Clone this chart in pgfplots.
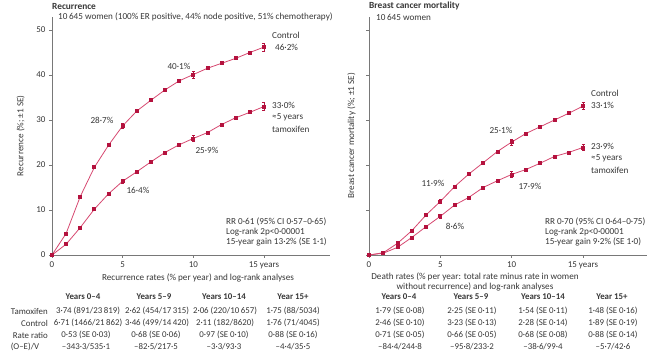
\documentclass[border=0pt]{standalone}
\usepackage{fontspec}
\setmainfont{Carlito}
\usepackage{pgfplots}
\pgfplotsset{compat=1.18}
\definecolor{crim}{RGB}{180,18,62}
\definecolor{crimline}{RGB}{214,72,112}
\definecolor{txt}{RGB}{55,55,55}
\definecolor{axgray}{RGB}{120,120,120}
\pgfplotsset{
  panel/.style={
    scale only axis, axis lines=left,
    axis line style={draw=axgray,-,line width=0.6pt},
    xmin=0, ymin=0, ymax=53, height=238.5bp,
    tick align=outside, major tick length=3bp,
    tick style={draw=axgray,line width=0.6pt},
    xtick={0,5,10,15}, ytick={0,10,20,30,40,50},
    xticklabels={0,5,10,15 years},
    tick label style={font=\fontsize{9}{10}\selectfont, text=txt},
    /pgf/number format/assume math mode=true,
    clip=false, anchor=south west,
  },
  ser/.style={color=crimline, line width=0.8pt, mark=square*, mark size=1.5bp,
    mark options={fill=crim, draw=crim}},
  eb/.style={forget plot, draw=none, mark=none,
    error bars/.cd, y dir=both, y explicit,
    error bar style={draw=crim, line width=0.7pt},
    error mark options={draw=crim, rotate=90, mark size=1.5bp, line width=0.6pt}},
}
\newcommand{\tf}{\fontsize{9.2}{11}\selectfont\color{txt}}
\newcommand{\tb}{\fontsize{8.9}{10}\selectfont\color{txt}}
\begin{document}
\begin{tikzpicture}
\path (0bp,0bp) rectangle (649bp,356bp);
% ---------------- left panel ----------------
\begin{axis}[panel, at={(52bp,101bp)}, xmax=19.7, width=278.4bp,
  ylabel={Recurrence (\%; ±1 SE)},
  ylabel style={font=\tf}, ylabel shift=5bp,
  ]
\addplot[ser] coordinates {(0,0) (1,4.8) (2,13.0) (3,19.5) (4,24.4) (5,28.7) (6,32.0) (7,34.4) (8,36.7) (9,38.7) (10,40.1) (11,41.5) (12,42.6) (13,43.7) (14,45.0) (15,46.2)};
\addplot[ser] coordinates {(0,0) (1,2.4) (2,6.1) (3,10.2) (4,13.6) (5,16.4) (6,18.5) (7,20.7) (8,22.8) (9,24.5) (10,25.9) (11,27.2) (12,29.0) (13,30.5) (14,31.7) (15,33.0)};
\addplot[eb] coordinates {(5,28.7) +- (0,0.6) (10,40.1) +- (0,0.8) (15,46.2) +- (0,0.9)};
\addplot[eb] coordinates {(5,16.4) +- (0,0.5) (10,25.9) +- (0,0.7) (15,33.0) +- (0,0.9)};
\end{axis}
% ---------------- right panel ----------------
\begin{axis}[panel, at={(369bp,101bp)}, xmax=19.5, width=278.2bp,
  yticklabels={},
  ylabel={Breast cancer mortality (\%; ±1 SE)},
  ylabel style={font=\tf},
  ]
\addplot[ser] coordinates {(0,0) (1,0.5) (2,2.6) (3,5.4) (4,8.9) (5,11.9) (6,15.2) (7,18.0) (8,20.5) (9,23.0) (10,25.1) (11,27.0) (12,28.5) (13,30.0) (14,31.5) (15,33.1)};
\addplot[ser] coordinates {(0,0) (1,0.4) (2,1.7) (3,3.9) (4,6.3) (5,8.6) (6,11.1) (7,12.8) (8,15.0) (9,16.5) (10,17.9) (11,19.0) (12,20.4) (13,21.9) (14,22.8) (15,23.9)};
\addplot[eb] coordinates {(5,11.9) +- (0,0.5) (10,25.1) +- (0,0.7) (15,33.1) +- (0,0.8)};
\addplot[eb] coordinates {(5,8.6) +- (0,0.4) (10,17.9) +- (0,0.6) (15,23.9) +- (0,0.7)};
\end{axis}
\begin{scope}[x=1bp,y=1bp]
% ---------------- left texts ----------------
\node[anchor=west, inner sep=0pt, font=\fontsize{9.4}{10}\selectfont\bfseries\color{txt}] at (52,350) {Recurrence};
\node[anchor=west, inner sep=0pt, font=\tf] at (58,339) {10\,645 women (100\% ER positive, 44\% node positive, 51\% chemotherapy)};
\node[anchor=west, inner sep=0pt, font=\tf] at (272,321) {Control};
\node[anchor=west, inner sep=0pt, font=\tf] at (275,309) {46·2\%};
\node[font=\tf] at (179,290) {40·1\%};
\node[font=\tf] at (102,236) {28·7\%};
\node[anchor=west, inner sep=0pt, font=\tf] at (272,251) {33·0\%};
\node[anchor=west, inner sep=0pt, font=\tf] at (272,239) {≈5 years};
\node[anchor=west, inner sep=0pt, font=\tf] at (272,227) {tamoxifen};
\node[font=\tf] at (207,206) {25·9\%};
\node[font=\tf] at (138,166) {16·4\%};
\node[anchor=west, inner sep=0pt, font=\tf, align=left] at (226,124) {RR 0·61 (95\% CI 0·57–0·65)\\[-1pt]Log-rank 2p<0·00001\\[-1pt]15-year gain 13·2\% (SE 1·1)};
\node[font=\tf] at (198,78) {Recurrence rates (\% per year) and log-rank analyses};
% ---------------- right texts ----------------
\node[anchor=west, inner sep=0pt, font=\fontsize{9.4}{10}\selectfont\bfseries\color{txt}] at (369,350) {Breast cancer mortality};
\node[anchor=west, inner sep=0pt, font=\tf] at (376,339) {10\,645 women};
\node[anchor=west, inner sep=0pt, font=\tf] at (591,263) {Control};
\node[anchor=west, inner sep=0pt, font=\tf] at (591,251) {33·1\%};
\node[font=\tf] at (501,226) {25·1\%};
\node[font=\tf] at (433,173) {11·9\%};
\node[font=\tf] at (455,130) {8·6\%};
\node[font=\tf] at (530,170) {17·9\%};
\node[anchor=west, inner sep=0pt, font=\tf] at (591,210) {23·9\%};
\node[anchor=west, inner sep=0pt, font=\tf] at (591,198) {≈5 years};
\node[anchor=west, inner sep=0pt, font=\tf] at (591,186) {tamoxifen};
\node[anchor=west, inner sep=0pt, font=\tf, align=left] at (545,124) {RR 0·70 (95\% CI 0·64–0·75)\\[-1pt]Log-rank 2p<0·00001\\[-1pt]15-year gain 9·2\% (SE 1·0)};
\node[font=\tf, align=center] at (475,74) {Death rates (\% per year: total rate minus rate in women\\[-1pt]without recurrence) and log-rank analyses};
% ---------------- left table ----------------
\node[anchor=east, inner sep=0pt, font=\tb] at (48,45) {Tamoxifen};
\node[anchor=east, inner sep=0pt, font=\tb] at (48,33) {Control};
\node[anchor=east, inner sep=0pt, font=\tb] at (48,21) {Rate ratio};
\node[font=\tb] at (25,9) {(O–E)/V};
\node[font=\tb\bfseries] at (83,59) {Years 0–4};
\node[font=\tb\bfseries] at (154,59) {Years 5–9};
\node[font=\tb\bfseries] at (224,59) {Years 10–14};
\node[font=\tb\bfseries] at (293,59) {Year 15+};
\node[font=\tb] at (88,45) {3·74 (891/23\,819)};
\node[font=\tb] at (157,45) {2·62 (454/17\,315)};
\node[font=\tb] at (225,45) {2·06 (220/10\,657)};
\node[font=\tb] at (293,45) {1·75 (88/5034)};
\node[font=\tb] at (88,33) {6·71 (1466/21\,862)};
\node[font=\tb] at (157,33) {3·46 (499/14\,420)};
\node[font=\tb] at (225,33) {2·11 (182/8620)};
\node[font=\tb] at (293,33) {1·76 (71/4045)};
\node[font=\tb] at (86,21) {0·53 (SE 0·03)};
\node[font=\tb] at (156,21) {0·68 (SE 0·06)};
\node[font=\tb] at (224,21) {0·97 (SE 0·10)};
\node[font=\tb] at (293,21) {0·88 (SE 0·16)};
\node[font=\tb] at (86,9) {–343·3/535·1};
\node[font=\tb] at (156,9) {–82·5/217·5};
\node[font=\tb] at (224,9) {–3·3/93·3};
\node[font=\tb] at (293,9) {–4·4/35·5};
% ---------------- right table ----------------
\node[font=\tb\bfseries] at (399,59) {Years 0–4};
\node[font=\tb\bfseries] at (471,59) {Years 5–9};
\node[font=\tb\bfseries] at (543,59) {Years 10–14};
\node[font=\tb\bfseries] at (612,59) {Year 15+};
\node[font=\tb] at (400,45) {1·79 (SE 0·08)};
\node[font=\tb] at (472,45) {2·25 (SE 0·11)};
\node[font=\tb] at (543,45) {1·54 (SE 0·11)};
\node[font=\tb] at (613,45) {1·48 (SE 0·16)};
\node[font=\tb] at (400,33) {2·46 (SE 0·10)};
\node[font=\tb] at (472,33) {3·23 (SE 0·13)};
\node[font=\tb] at (543,33) {2·28 (SE 0·14)};
\node[font=\tb] at (613,33) {1·89 (SE 0·19)};
\node[font=\tb] at (400,21) {0·71 (SE 0·05)};
\node[font=\tb] at (472,21) {0·66 (SE 0·05)};
\node[font=\tb] at (543,21) {0·68 (SE 0·08)};
\node[font=\tb] at (613,21) {0·88 (SE 0·14)};
\node[font=\tb] at (400,9) {–84·4/244·8};
\node[font=\tb] at (472,9) {–95·8/233·2};
\node[font=\tb] at (543,9) {–38·6/99·4};
\node[font=\tb] at (613,9) {–5·7/42·6};
\end{scope}
\end{tikzpicture}
\end{document}
